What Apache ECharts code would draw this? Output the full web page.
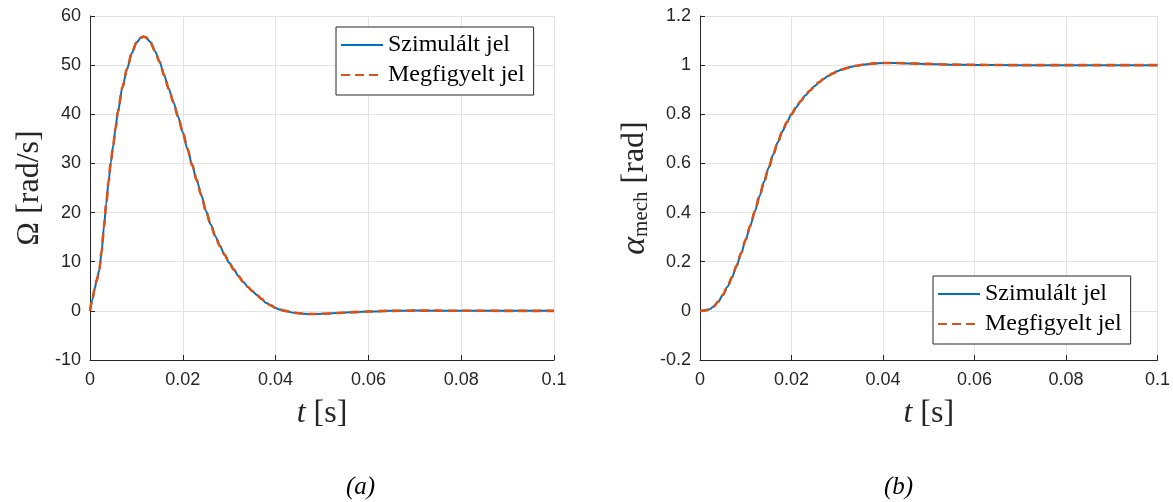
<!DOCTYPE html>
<html>
<head>
<meta charset="utf-8">
<title>Szimulált és megfigyelt jel</title>
<script src="https://cdn.jsdelivr.net/npm/echarts@6/dist/echarts.min.js"></script>
<style>
  html, body { margin: 0; padding: 0; background: #fff; }
  #chart { width: 1173px; height: 502px; }
</style>
</head>
<body>
<div id="chart"></div>
<script>
  // (a) szögsebesség
  const omegaTime = [
    0, 0.0005, 0.001, 0.0015, 0.002, 0.0025, 0.003, 0.0035, 0.004, 0.0045,
    0.005, 0.0055, 0.006, 0.007, 0.008, 0.009, 0.010, 0.011, 0.0115, 0.012,
    0.013, 0.014, 0.015, 0.016, 0.017, 0.018, 0.019, 0.020, 0.021, 0.022,
    0.023, 0.024, 0.025, 0.026, 0.027, 0.028, 0.029, 0.030, 0.031, 0.032,
    0.033, 0.034, 0.035, 0.036, 0.037, 0.038, 0.039, 0.040, 0.041, 0.042,
    0.044, 0.046, 0.048, 0.050, 0.053, 0.056, 0.060, 0.065, 0.070, 0.080,
    0.090, 0.100
  ];
  const omegaValues = [
    0, 2.2, 4.5, 6.4, 8.3, 12, 17, 21.8, 26.3, 30.3,
    33.7, 37.1, 40.5, 45.5, 49.3, 52.4, 54.6, 55.6, 55.8, 55.7,
    54.7, 52.9, 50.7, 47.9, 45.1, 42.4, 39.5, 36.3, 33.0, 29.7,
    26.6, 23.5, 20.3, 17.6, 15.2, 13.2, 11.4, 9.8, 8.4, 7.1,
    5.9, 4.9, 4.0, 3.2, 2.4, 1.6, 1.1, 0.6, 0.25, 0,
    -0.4, -0.6, -0.65, -0.6, -0.45, -0.3, -0.12, 0, 0.05, 0.03,
    0, 0
  ];

  // (b) mechanikai szög
  const alphaTime = [
    0, 0.001, 0.002, 0.003, 0.004, 0.005, 0.006, 0.007, 0.008, 0.009,
    0.010, 0.011, 0.012, 0.013, 0.014, 0.015, 0.016, 0.017, 0.018, 0.019,
    0.020, 0.021, 0.022, 0.023, 0.024, 0.025, 0.026, 0.027, 0.028, 0.029,
    0.030, 0.031, 0.032, 0.033, 0.034, 0.036, 0.038, 0.040, 0.043, 0.046,
    0.050, 0.055, 0.060, 0.070, 0.080, 0.100
  ];
  const alphaValues = [
    0, 0.001, 0.006, 0.018, 0.038, 0.065, 0.098, 0.137, 0.184, 0.235,
    0.29, 0.347, 0.406, 0.466, 0.525, 0.582, 0.636, 0.686, 0.73, 0.768,
    0.8, 0.828, 0.853, 0.876, 0.896, 0.914, 0.93, 0.944, 0.956, 0.966,
    0.975, 0.982, 0.988, 0.993, 0.997, 1.003, 1.007, 1.009, 1.009, 1.007,
    1.005, 1.002, 1.001, 1.0, 1.0, 1.0
  ];

  const seriesNames = ['Szimulált jel', 'Megfigyelt jel'];
  const xTicks = { min: 0, max: 0.1, interval: 0.02 };
  const omegaTicks = { min: -10, max: 60, interval: 10 };
  const alphaTicks = { min: -0.2, max: 1.2, interval: 0.2 };

  const pairs = (xs, ys) => xs.map((x, i) => [x, ys[i]]);

  const axisColor = '#262626';
  const gridColor = '#e3e3e3';
  const blue = '#0072BD';
  const orange = '#D95319';
  const tickFont = 'Liberation Sans, Arial, sans-serif';
  const serifFont = 'Liberation Serif, Times New Roman, serif';

  const makeX = (gridIndex) => ({
    type: 'value',
    gridIndex: gridIndex,
    min: xTicks.min,
    max: xTicks.max,
    interval: xTicks.interval,
    name: '{i|t} [s]',
    nameLocation: 'middle',
    nameGap: 38,
    nameTextStyle: {
      fontFamily: serifFont,
      fontSize: 32,
      color: axisColor,
      rich: {
        i: { fontFamily: serifFont, fontStyle: 'italic', fontSize: 32, color: axisColor },
      },
    },
    axisLine: { show: true, onZero: false, lineStyle: { color: axisColor, width: 1 } },
    axisTick: { show: true, inside: true, length: 5, lineStyle: { color: axisColor } },
    axisLabel: { color: axisColor, fontSize: 18, fontFamily: tickFont, margin: 11 },
    splitLine: { show: true, lineStyle: { color: gridColor } },
  });

  const makeY = (gridIndex, ticks, name, gap, rich) => ({
    type: 'value',
    gridIndex: gridIndex,
    min: ticks.min,
    max: ticks.max,
    interval: ticks.interval,
    name: name,
    nameLocation: 'middle',
    nameRotate: 90,
    nameGap: gap,
    nameTextStyle: {
      fontFamily: serifFont,
      fontSize: 32,
      color: axisColor,
      rich: rich,
    },
    axisLine: { show: true, onZero: false, lineStyle: { color: axisColor, width: 1 } },
    axisTick: { show: true, inside: true, length: 5, lineStyle: { color: axisColor } },
    axisLabel: { color: axisColor, fontSize: 18, fontFamily: tickFont, margin: 9 },
    splitLine: { show: true, lineStyle: { color: gridColor } },
  });

  const makeSeries = (idx, xs, ys) => [
    {
      name: seriesNames[0],
      type: 'line',
      xAxisIndex: idx,
      yAxisIndex: idx,
      data: pairs(xs, ys),
      showSymbol: false,
      symbol: 'none',
      smooth: 0.3,
      smoothMonotone: 'x',
      lineStyle: { color: blue, width: 2 },
      itemStyle: { color: blue },
      z: 2,
    },
    {
      name: seriesNames[1],
      type: 'line',
      xAxisIndex: idx,
      yAxisIndex: idx,
      data: pairs(xs, ys),
      showSymbol: false,
      symbol: 'none',
      smooth: 0.3,
      smoothMonotone: 'x',
      lineStyle: { color: orange, width: 2.6, type: [9, 5] },
      itemStyle: { color: orange },
      z: 3,
    },
  ];

  const makeLegend = (left, top) => ({
    data: seriesNames,
    orient: 'vertical',
    left: left,
    top: top,
    itemWidth: 42,
    itemHeight: 14,
    itemGap: 6,
    padding: [6, 9, 8, 4],
    backgroundColor: '#fff',
    borderColor: axisColor,
    borderWidth: 1,
    borderRadius: 0,
    selectedMode: false,
    itemStyle: { opacity: 0 },
    textStyle: { fontFamily: serifFont, fontSize: 24, lineHeight: 24, color: '#000' },
  });

  const myChart = echarts.init(document.getElementById('chart'));
  myChart.setOption({
    animation: false,
    backgroundColor: '#fff',
    title: [
      {
        text: '(a)',
        left: 341,
        top: 470,
        textStyle: { fontFamily: serifFont, fontStyle: 'italic', fontWeight: 'normal', fontSize: 25, color: '#000' },
      },
      {
        text: '(b)',
        left: 879,
        top: 470,
        textStyle: { fontFamily: serifFont, fontStyle: 'italic', fontWeight: 'normal', fontSize: 25, color: '#000' },
      },
    ],
    legend: [makeLegend(336, 27), makeLegend(933, 276)],
    grid: [
      { left: 90, top: 16, width: 464, height: 344 },
      { left: 700, top: 16, width: 459, height: 344 },
    ],
    xAxis: [makeX(0), makeX(1)],
    yAxis: [
      makeY(0, omegaTicks, 'Ω [rad/s]', 44, {}),
      makeY(1, alphaTicks, '{i|α}{sub|mech} [rad]', 48, {
        i: { fontFamily: serifFont, fontStyle: 'italic', fontSize: 34, color: axisColor },
        sub: { fontFamily: serifFont, fontSize: 21, color: axisColor, verticalAlign: 'bottom', padding: [12, 0, 0, 0] },
      }),
    ],
    series: [...makeSeries(0, omegaTime, omegaValues), ...makeSeries(1, alphaTime, alphaValues)],
  });

  window.addEventListener('resize', function () {
    myChart && myChart.resize();
  });
</script>
</body>
</html>
